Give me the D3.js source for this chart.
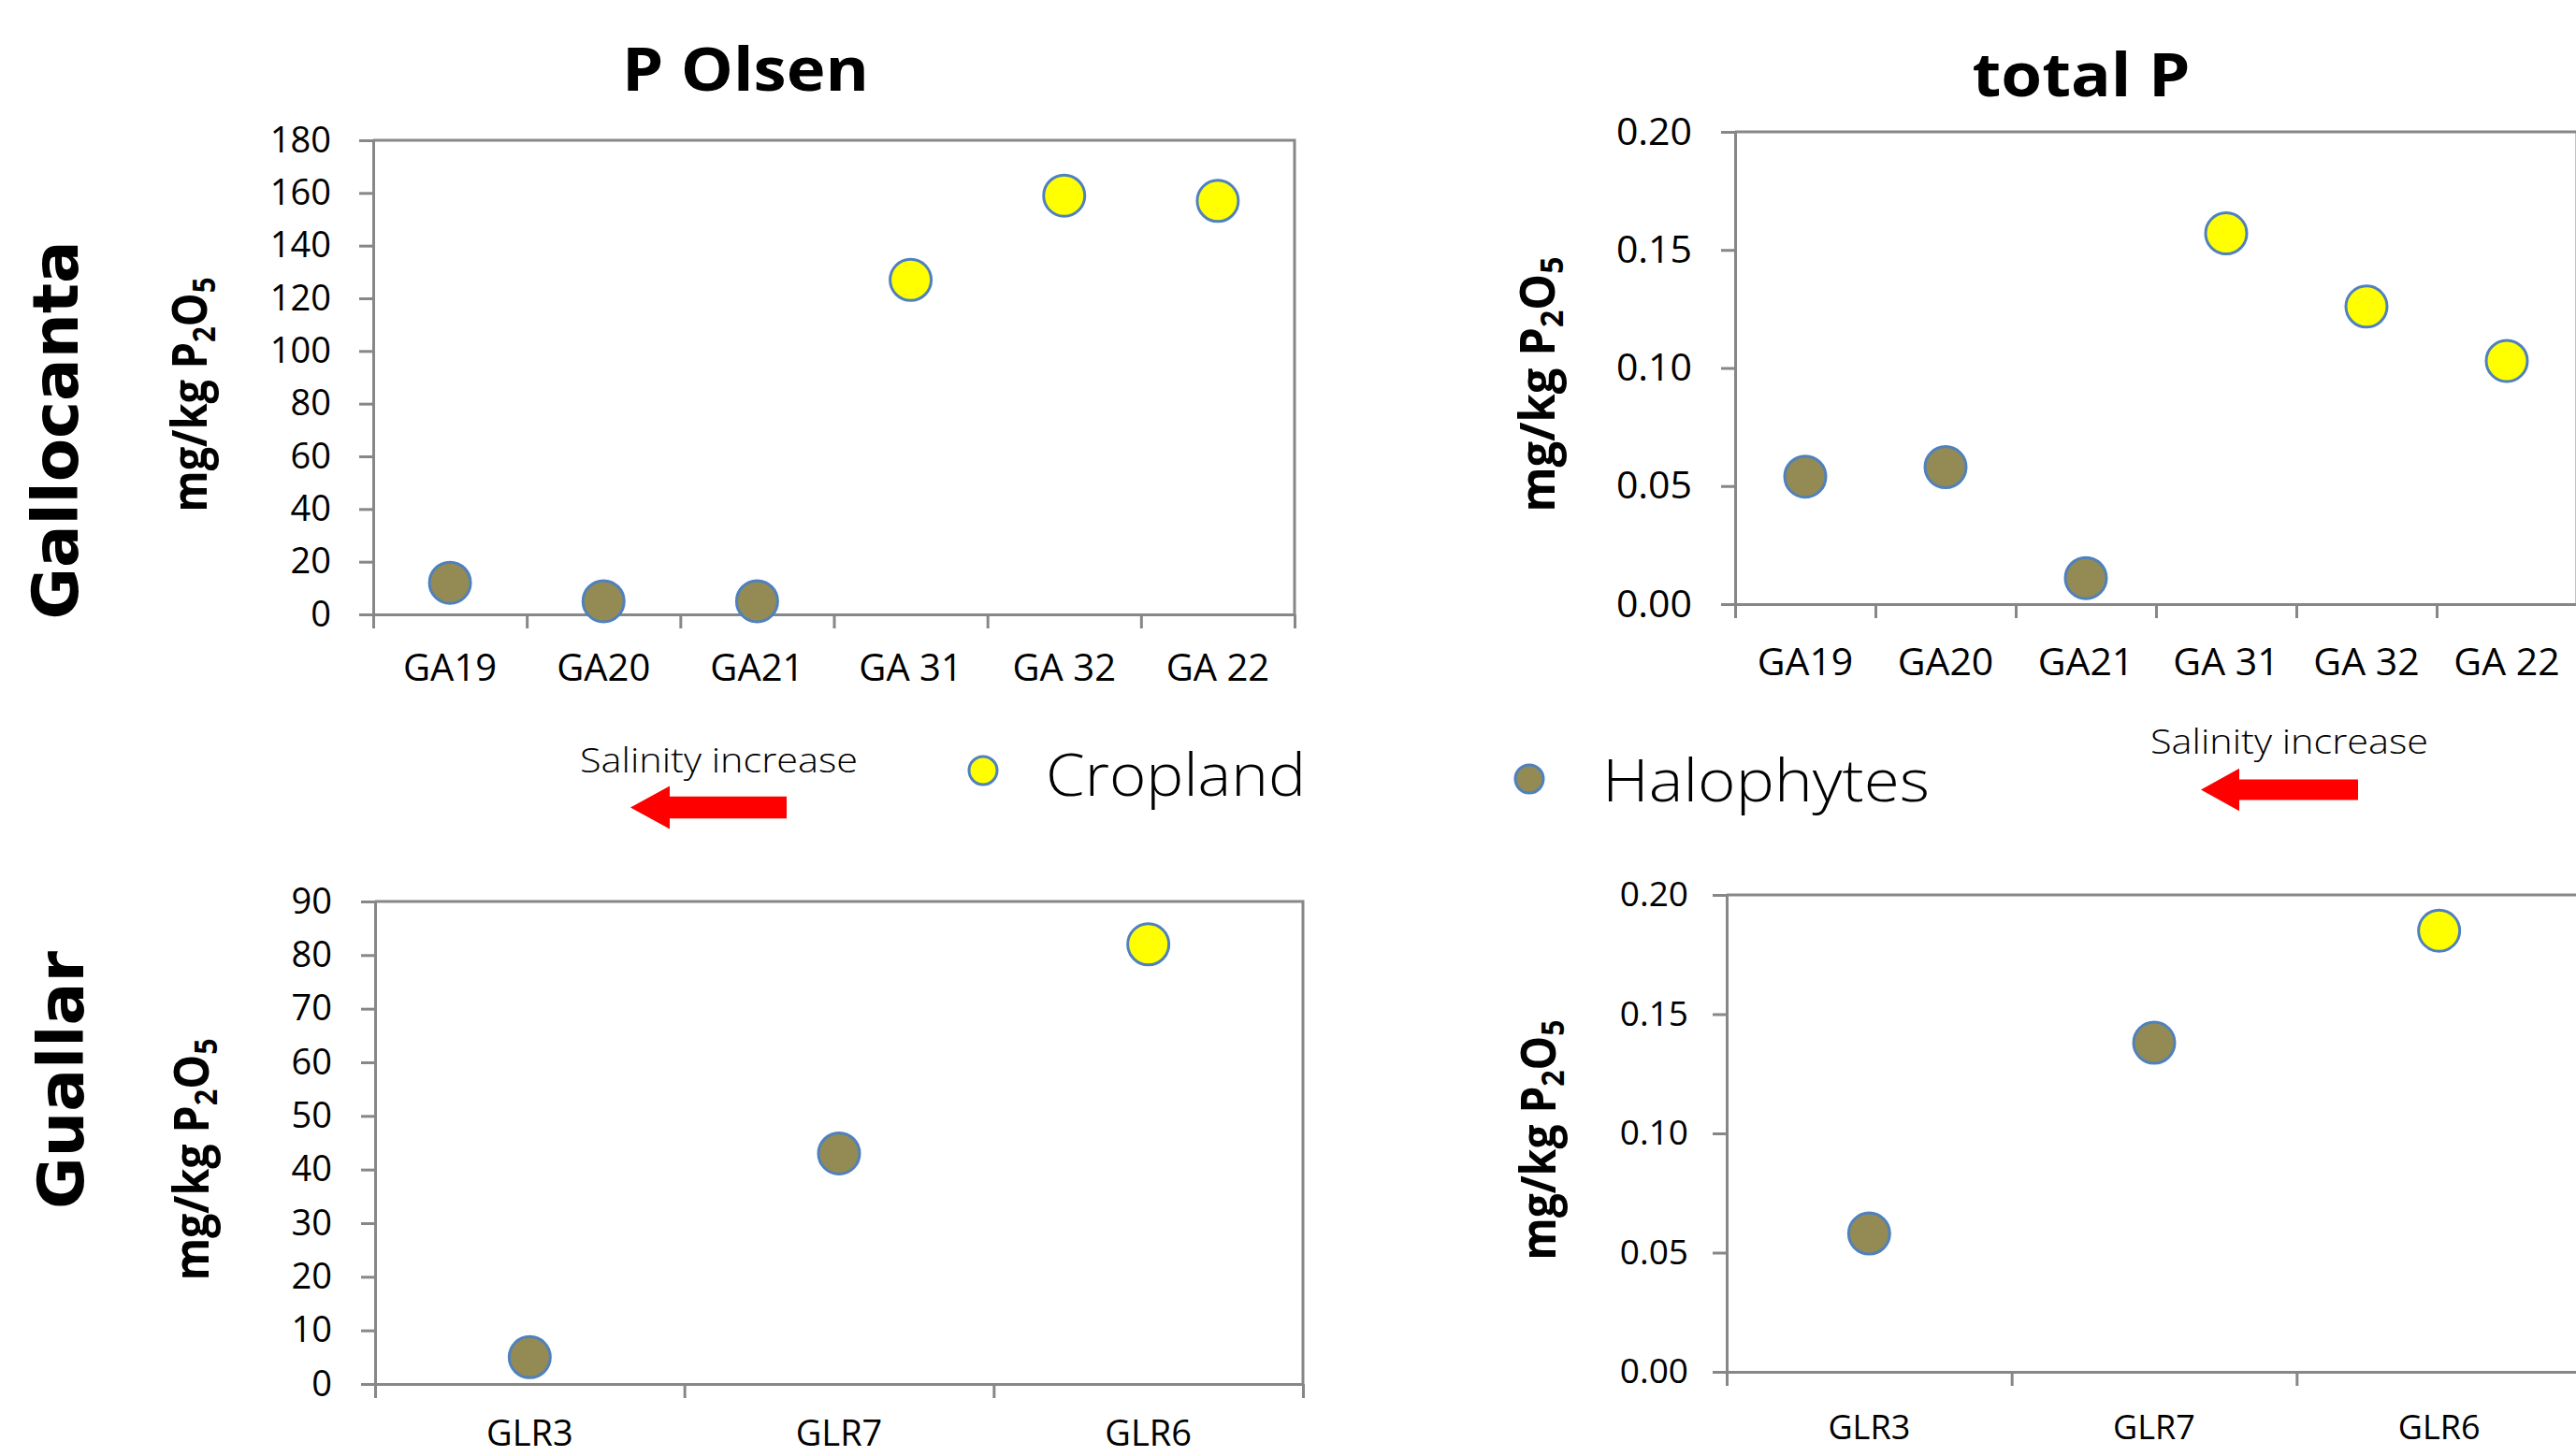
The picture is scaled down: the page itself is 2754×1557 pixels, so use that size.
<!DOCTYPE html>
<html>
<head>
<meta charset="utf-8">
<script src="https://cdn.jsdelivr.net/npm/d3@7"></script>
<style>
  html, body { margin: 0; padding: 0; background: #ffffff; }
  svg { display: block; }
  .axis .domain, .axis line { stroke: #878787; stroke-width: 3; }
  .axis text { fill: #000; font-family: "Open Sans", sans-serif; }
</style>
</head>
<body>
<svg id="chart" width="2754" height="1557"></svg>
<script>
// ---------------- data ----------------
const gallocantaSites   = ["GA19", "GA20", "GA21", "GA 31", "GA 32", "GA 22"];
const gallocantaLandUse = ["Halophytes", "Halophytes", "Halophytes", "Cropland", "Cropland", "Cropland"];
const gallocantaPOlsen  = [12, 5, 5, 127, 159, 157];
const gallocantaTotalP  = [0.054, 0.058, 0.011, 0.157, 0.126, 0.103];

const guallarSites   = ["GLR3", "GLR7", "GLR6"];
const guallarLandUse = ["Halophytes", "Halophytes", "Cropland"];
const guallarPOlsen  = [5, 43, 82];
const guallarTotalP  = [0.058, 0.138, 0.185];

const pOlsenTicksGallocanta = [0, 20, 40, 60, 80, 100, 120, 140, 160, 180];
const pOlsenTicksGuallar    = [0, 10, 20, 30, 40, 50, 60, 70, 80, 90];
const totalPTicks           = [0.00, 0.05, 0.10, 0.15, 0.20];

const landUseClasses = ["Cropland", "Halophytes"];
const landUseColors  = ["#ffff00", "#948a54"];

const columnTitles = ["P Olsen", "total P"];
const rowLabels    = ["Gallocanta", "Guallar"];
const salinityText = "Salinity increase";

// ---------------- drawing ----------------
const svg = d3.select("#chart");
svg.append("rect").attr("width", 2754).attr("height", 1557).attr("fill", "#fff");

const fill = d3.scaleOrdinal().domain(landUseClasses).range(landUseColors);
const markerStroke = "#4f81bd";

function panel(cfg) {
  const g = svg.append("g");
  const y = d3.scaleLinear().domain([cfg.ticks[0], cfg.ticks[cfg.ticks.length - 1]])
    .range([cfg.bottom, cfg.top]);
  const x = d3.scaleBand().domain(cfg.sites).range([cfg.x0, cfg.x1]).padding(0);
  const bnd = d3.scaleLinear().domain([0, cfg.sites.length]).range([cfg.x0, cfg.x1]);

  // frame (top + right)
  g.append("path")
    .attr("d", d3.line()([[cfg.x0, cfg.top], [cfg.x1, cfg.top], [cfg.x1, cfg.bottom]]))
    .attr("fill", "none").attr("stroke", "#878787").attr("stroke-width", 3);

  // y axis
  const ya = g.append("g").attr("class", "axis")
    .attr("transform", `translate(${cfg.x0},0)`)
    .call(d3.axisLeft(y).tickValues(cfg.ticks).tickSize(15).tickSizeOuter(0)
      .tickPadding(cfg.yPad).tickFormat(cfg.fmt));
  ya.selectAll("text").style("font-size", cfg.yFont + "px");

  // x axis boundary ticks
  g.append("g").attr("class", "axis")
    .attr("transform", `translate(0,${cfg.bottom})`)
    .call(d3.axisBottom(bnd).tickValues(d3.range(cfg.sites.length + 1))
      .tickSize(15).tickSizeOuter(0).tickFormat(""));

  // x labels
  const xl = g.append("g").attr("class", "axis")
    .attr("transform", `translate(0,${cfg.bottom})`)
    .call(d3.axisBottom(x).tickSize(0).tickPadding(cfg.xBase - 0.71 * cfg.xFont));
  xl.select(".domain").remove();
  xl.selectAll("text").style("font-size", cfg.xFont + "px");

  // points
  g.selectAll("circle.pt").data(cfg.sites.map((s, i) => ({ s, v: cfg.values[i], c: cfg.landUse[i] })))
    .join("circle").attr("class", "pt")
    .attr("cx", d => x(d.s) + x.bandwidth() / 2)
    .attr("cy", d => y(d.v))
    .attr("r", 22)
    .attr("fill", d => fill(d.c))
    .attr("stroke", markerStroke).attr("stroke-width", 3);

  // y label
  const t = g.append("text")
    .attr("transform", `translate(${cfg.labX},${cfg.labY}) rotate(-90)`)
    .attr("text-anchor", "middle")
    .attr("font-family", "'Open Sans', sans-serif").attr("font-weight", 700)
    .attr("font-size", 52)
    .attr("textLength", cfg.labLen).attr("lengthAdjust", "spacingAndGlyphs");
  t.append("tspan").text("mg/kg P");
  t.append("tspan").text("2").attr("font-size", 34).attr("dy", 9);
  t.append("tspan").text("O").attr("dy", -9);
  t.append("tspan").text("5").attr("font-size", 34).attr("dy", 9);
}

const fmt0 = d3.format("d");
const fmt2 = d3.format(".2f");

panel({ sites: gallocantaSites, landUse: gallocantaLandUse, values: gallocantaPOlsen,
  ticks: pOlsenTicksGallocanta, fmt: fmt0, x0: 399, x1: 1384, top: 150, bottom: 657,
  yPad: 30, yFont: 38, xFont: 40, xBase: 71, labX: 221, labY: 422, labLen: 251 });
panel({ sites: gallocantaSites, landUse: gallocantaLandUse, values: gallocantaTotalP,
  ticks: totalPTicks, fmt: fmt2, x0: 1855, x1: 2755, top: 141, bottom: 646,
  yPad: 31, yFont: 41, xFont: 41, xBase: 76, labX: 1662, labY: 411, labLen: 273 });
panel({ sites: guallarSites, landUse: guallarLandUse, values: guallarPOlsen,
  ticks: pOlsenTicksGuallar, fmt: fmt0, x0: 401, x1: 1393, top: 964, bottom: 1480,
  yPad: 31, yFont: 38, xFont: 38, xBase: 66, labX: 223, labY: 1240, labLen: 259 });
panel({ sites: guallarSites, landUse: guallarLandUse, values: guallarTotalP,
  ticks: totalPTicks, fmt: fmt2, x0: 1846, x1: 2760, top: 957, bottom: 1467,
  yPad: 26, yFont: 37, xFont: 36, xBase: 72, labX: 1663, labY: 1219, labLen: 257 });

// column titles
const titlePos = [{ x: 797, y: 97, len: 264 }, { x: 2225, y: 103, len: 233 }];
svg.selectAll("text.title").data(columnTitles).join("text").attr("class", "title")
  .attr("x", (d, i) => titlePos[i].x).attr("y", (d, i) => titlePos[i].y)
  .attr("text-anchor", "middle")
  .attr("font-family", "'Open Sans', sans-serif").attr("font-weight", 700).attr("font-size", 64)
  .attr("textLength", (d, i) => titlePos[i].len).attr("lengthAdjust", "spacingAndGlyphs")
  .text(d => d);

// row labels
const rowPos = [{ x: 83, y: 460, len: 405 }, { x: 89, y: 1155, len: 276 }];
svg.selectAll("text.row").data(rowLabels).join("text").attr("class", "row")
  .attr("transform", (d, i) => `translate(${rowPos[i].x},${rowPos[i].y}) rotate(-90)`)
  .attr("text-anchor", "middle")
  .attr("font-family", "'DejaVu Sans', sans-serif").attr("font-weight", 700).attr("font-size", 67)
  .attr("textLength", (d, i) => rowPos[i].len).attr("lengthAdjust", "spacingAndGlyphs")
  .text(d => d);

// legend
const legPos = [{ cx: 1051, cy: 824, tx: 1118, ty: 851, len: 278 },
                { cx: 1635, cy: 833, tx: 1713, ty: 857, len: 350 }];
const leg = svg.selectAll("g.leg").data(landUseClasses).join("g").attr("class", "leg");
leg.append("circle").attr("cx", (d, i) => legPos[i].cx).attr("cy", (d, i) => legPos[i].cy)
  .attr("r", 15).attr("fill", d => fill(d)).attr("stroke", markerStroke).attr("stroke-width", 3);
leg.append("text").attr("x", (d, i) => legPos[i].tx).attr("y", (d, i) => legPos[i].ty)
  .attr("font-family", "'Open Sans', sans-serif").attr("font-weight", 300).attr("font-size", 63)
  .attr("textLength", (d, i) => legPos[i].len).attr("lengthAdjust", "spacingAndGlyphs")
  .text(d => d);

// salinity annotations + arrows
const salPos = [{ tx: 620, ty: 826, tip: 674, base: 716, tail: 841, cy: 863.5, sh: 11.7, hh: 23 },
                { tx: 2299, ty: 805.5, tip: 2353, base: 2394, tail: 2521, cy: 844.5, sh: 11, hh: 22.7 }];
svg.selectAll("text.sal").data(salPos).join("text").attr("class", "sal")
  .attr("x", d => d.tx).attr("y", d => d.ty)
  .attr("font-family", "'Open Sans', sans-serif").attr("font-weight", 300).attr("font-size", 37)
  .attr("textLength", 297).attr("lengthAdjust", "spacingAndGlyphs")
  .text(salinityText);
svg.selectAll("path.arrow").data(salPos).join("path").attr("class", "arrow")
  .attr("d", d => d3.line()([[d.tip, d.cy], [d.base, d.cy - d.hh], [d.base, d.cy - d.sh],
    [d.tail, d.cy - d.sh], [d.tail, d.cy + d.sh], [d.base, d.cy + d.sh], [d.base, d.cy + d.hh]]) + "Z")
  .attr("fill", "#ff0000");
</script>
</body>
</html>
